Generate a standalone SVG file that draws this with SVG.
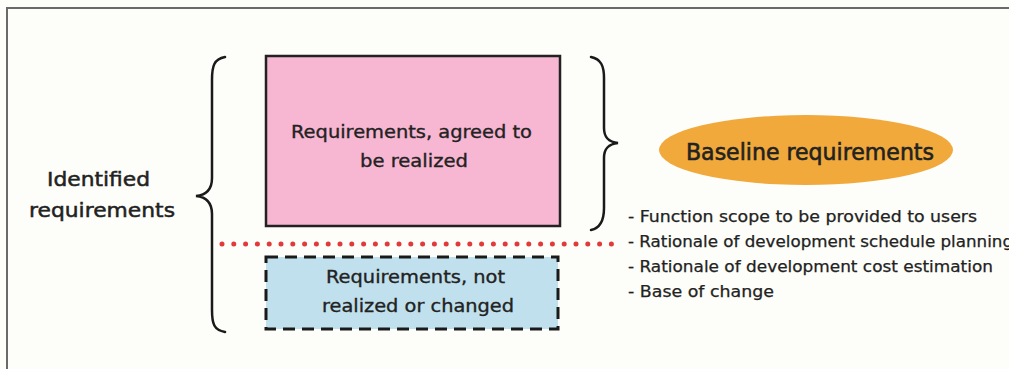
<svg xmlns="http://www.w3.org/2000/svg" width="1009" height="369" viewBox="0 0 1009 369">
  <style>
    text { font-family: "DejaVu Sans", "Noto Sans", sans-serif; fill: #222; stroke: #222; stroke-width: 0.35; }
    .lbl { font-size: 18px; }
    .side { font-size: 20px; stroke-width: 0.5; }
    .item { font-size: 15.5px; stroke-width: 0.25; }
    .title { font-size: 23px; stroke-width: 0.6; }
    .brace { fill: none; stroke: #1a1a1a; stroke-width: 2.5; stroke-linecap: round; }
  </style>
  <rect width="1009" height="369" fill="#fdfdf9"/>
  <!-- outer frame (open at the right and bottom) -->
  <path d="M7 369 V8 H1009" fill="none" stroke="#6a6a6a" stroke-width="2"/>

  <g id="identified">
    <text class="side" x="47" y="186" textLength="103" lengthAdjust="spacingAndGlyphs">Identified</text>
    <text class="side" x="29" y="217" textLength="146" lengthAdjust="spacingAndGlyphs">requirements</text>
  </g>

  <g id="agreed">
    <rect x="266" y="56" width="294" height="170" fill="#f7b6d2" stroke="#222" stroke-width="2.5"/>
    <text class="lbl" x="291" y="138" textLength="241" lengthAdjust="spacingAndGlyphs">Requirements, agreed to</text>
    <text class="lbl" x="360" y="167" textLength="108" lengthAdjust="spacingAndGlyphs">be realized</text>
  </g>

  <g id="changed">
    <rect x="266" y="257" width="292" height="72" fill="#bfe0ec" stroke="#1a1a1a" stroke-width="3" stroke-dasharray="12 7"/>
    <text class="lbl" x="326" y="283" textLength="179" lengthAdjust="spacingAndGlyphs">Requirements, not</text>
    <text class="lbl" x="322" y="312" textLength="192" lengthAdjust="spacingAndGlyphs">realized or changed</text>
  </g>

  <g id="baseline">
    <ellipse cx="806" cy="150" rx="147" ry="35" fill="#f0a93a"/>
    <text class="title" x="686" y="160" textLength="248" lengthAdjust="spacingAndGlyphs">Baseline requirements</text>
  </g>

  <g id="items">
    <text class="item" x="628" y="222" textLength="349" lengthAdjust="spacingAndGlyphs">- Function scope to be provided to users</text>
    <text class="item" x="628" y="247" textLength="385" lengthAdjust="spacingAndGlyphs">- Rationale of development schedule planning</text>
    <text class="item" x="628" y="272" textLength="365" lengthAdjust="spacingAndGlyphs">- Rationale of development cost estimation</text>
    <text class="item" x="628" y="297" textLength="146" lengthAdjust="spacingAndGlyphs">- Base of change</text>
  </g>

  <g id="connectors">
    <!-- left brace spanning all identified requirements -->
    <path class="brace" d="M225 57 C214 59 212 66 212 80 V178 C212 190 206 195 196 196 C206 197 212 202 212 214 V310 C212 324 214 330 225 332"/>
    <!-- right brace grouping the agreed requirements -->
    <path class="brace" d="M591 57 C601 59 604 66 604 78 V128 C604 138 609 142 618 143 C609 144 604 148 604 158 V208 C604 220 601 228 591 230"/>
    <!-- boundary between baseline and remaining requirements -->
    <line x1="222" y1="244" x2="616" y2="244" stroke="#e03a3a" stroke-width="5" stroke-linecap="round" stroke-dasharray="0 11.8"/>
  </g>
</svg>
